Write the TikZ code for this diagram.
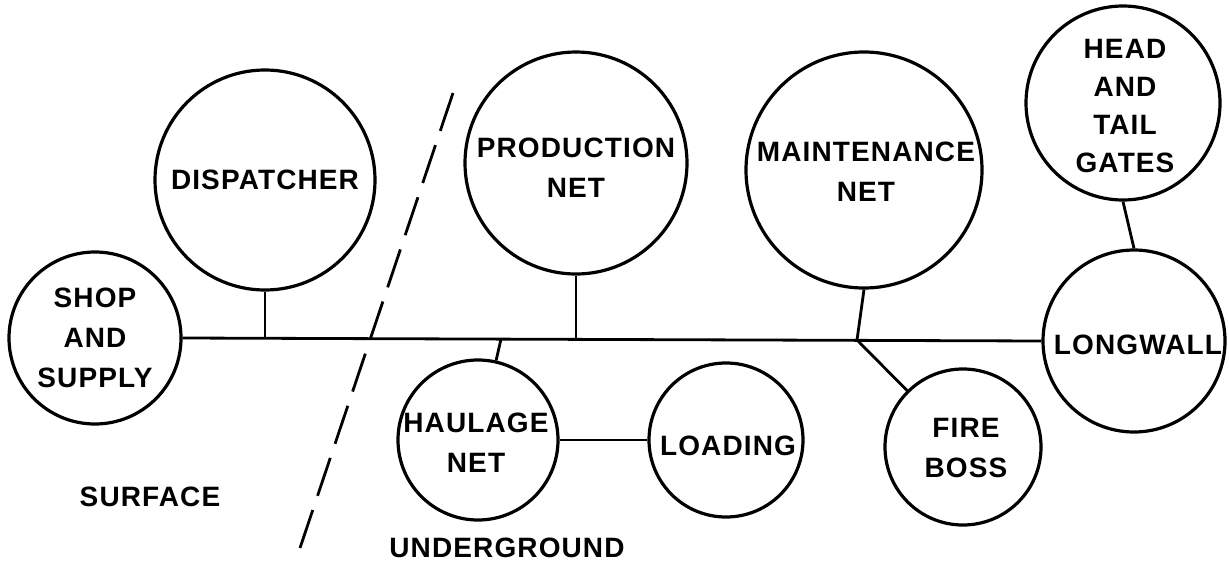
\documentclass[tikz,border=0pt]{standalone}
\usepackage{fontspec}
\setmainfont{Liberation Sans}[LetterSpace=4]
\begin{document}
\begin{tikzpicture}[x=1pt,y=-1pt,
  hub/.style={circle, draw, line width=3.2pt, inner sep=0pt, minimum size=#1},
  lbl/.style={font=\bfseries\fontsize{28}{40}\selectfont, align=center, inner sep=0pt},
  link/.style={line width=2.8pt},
  divider/.style={line width=2.8pt, dash pattern=on 40pt off 15pt}]
\useasboundingbox (0,0) rectangle (1229,562);

% circles of the communication networks
\node[hub=172pt] (shop)  at (95,338)   {};
\node[hub=220pt] (disp)  at (265,180)  {};
\node[hub=222pt] (prod)  at (576,163)  {};
\node[hub=236pt] (maint) at (864,170)  {};
\node[hub=194pt] (head)  at (1123,103) {};
\node[hub=182pt] (long)  at (1134,341) {};
\node[hub=160pt] (haul)  at (478,440)  {};
\node[hub=154pt] (load)  at (726,440)  {};
\node[hub=156pt] (fire)  at (963,447)  {};

% circle labels
\node[lbl] (shopT)  at (95,338)   {SHOP\\AND\\SUPPLY};
\node[lbl] (dispT)  at (265,180)  {DISPATCHER};
\node[lbl] (prodT)  at (576,168)  {PRODUCTION\\NET};
\node[lbl] (maintT) at (866,172)  {MAINTENANCE\\NET};
\node[lbl, font=\bfseries\fontsize{28}{38}\selectfont] (headT) at (1125,106) {HEAD\\AND\\TAIL\\GATES};
\node[lbl] (longT)  at (1138,345) {LONGWALL};
\node[lbl] (haulT)  at (476,443)  {HAULAGE\\NET};
\node[lbl] (loadT)  at (728,446)  {LOADING};
\node[lbl] (fireT)  at (966,448)  {FIRE\\BOSS};

% junctions on the trunk line
\coordinate (jD) at (265,338);
\coordinate (jH) at (501,339);
\coordinate (jP) at (576,339);
\coordinate (jM) at (857,340);

% trunk line and branches
\draw[link] (shop.east) -- (long.west);
\draw[link] (disp.south) -- (jD);
\draw[link] (prod.south) -- (jP);
\draw[link] (maint.south) -- (jM);
\draw[link] (jM) -- (fire);
\draw[link] (jH) -- (haul);
\draw[link] (haul.east) -- (load.west);
\draw[link] (head.south) -- (long.north);

% surface / underground boundary
\coordinate (dTop) at (453,93);
\coordinate (dBot) at (300,548);
\draw[divider] (dTop) -- (dBot);

\node[lbl] (surface) at (150,497) {SURFACE};
\node[lbl] (under)   at (507,548) {UNDERGROUND};
\end{tikzpicture}
\end{document}
